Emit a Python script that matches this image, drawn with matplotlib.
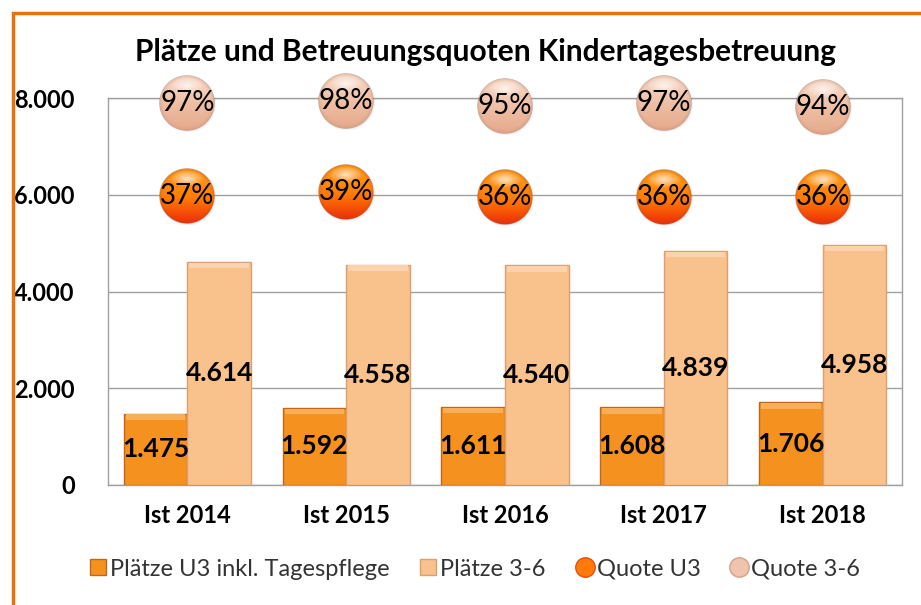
import matplotlib
matplotlib.use("Agg")
import matplotlib.pyplot as plt
from matplotlib.patches import Rectangle
from matplotlib.lines import Line2D
from matplotlib.colors import to_rgb
from matplotlib.offsetbox import OffsetImage, AnnotationBbox
import numpy as np

categories = ["Ist 2014", "Ist 2015", "Ist 2016", "Ist 2017", "Ist 2018"]
plaetze_u3 = [1475, 1592, 1611, 1608, 1706]
plaetze_36 = [4614, 4558, 4540, 4839, 4958]
quote_u3 = [0.37, 0.39, 0.36, 0.36, 0.36]
quote_36 = [0.97, 0.98, 0.95, 0.97, 0.94]
yticks = [0, 2000, 4000, 6000, 8000]
ytick_labels = ["0", "2.000", "4.000", "6.000", "8.000"]

FONT = "Lato"
plt.rcParams["font.family"] = [FONT, "DejaVu Sans"]

fig = plt.figure(figsize=(9.21, 6.05), dpi=100)
fig.patches.append(Rectangle((13/921, -0.05), 1.2, 1 - 13/605 + 0.05,
                             transform=fig.transFigure, fill=False,
                             edgecolor="#E8720C", linewidth=2.5, zorder=10))

ax = fig.add_axes([108/921, 1 - 485/605, (902 - 108)/921, (485 - 98)/605])
x = np.arange(len(categories))
w = 0.4

c_u3, e_u3 = "#F5911F", "#C2661C"
c_36, e_36 = "#F9C18C", "#DCA070"

b1 = ax.bar(x - w/2, plaetze_u3, w, color=c_u3, edgecolor=e_u3, linewidth=1.0, zorder=3)
b2 = ax.bar(x + w/2, plaetze_36, w, color=c_36, edgecolor=e_36, linewidth=1.0, zorder=3)

for bars, hl in ((b1, "#F9AE58"), (b2, "#FBD4AE")):
    for r in bars:
        bx, by, bw, bh = r.get_x(), r.get_y(), r.get_width(), r.get_height()
        ax.add_patch(Rectangle((bx + bw*0.03, by + bh - 130), bw*0.94, 115,
                               color=hl, zorder=4, linewidth=0))

for bars, vals in ((b1, plaetze_u3), (b2, plaetze_36)):
    for r, v in zip(bars, vals):
        ax.text(r.get_x() + r.get_width()/2, v/2, f"{v:,}".replace(",", "."),
                ha="center", va="center", fontsize=19, fontweight="bold", zorder=6)

ax.set_xlim(-0.5, len(categories) - 0.5)
ax.set_ylim(0, 8000)
ax.set_yticks(yticks)
ax.set_yticklabels(ytick_labels, fontsize=17, fontweight="bold")
ax.set_xticks(x)
ax.set_xticklabels(categories, fontsize=17, fontweight="bold")
ax.tick_params(axis="y", length=0, pad=24)
ax.tick_params(axis="x", length=0, pad=14)
ax.grid(axis="y", color="#A0A0A0", linewidth=1.0, zorder=0)
ax.set_axisbelow(True)
for s in ax.spines.values():
    s.set_color("#A0A0A0")
    s.set_linewidth(1.0)

ax2 = ax.twinx()
ax2.set_ylim(-1.5, 1.0)
ax2.set_yticks([])
for s in ax2.spines.values():
    s.set_visible(False)


def sphere(size, top, mid, bottom, rim):
    n = size * 3
    yy, xx = np.mgrid[0:n, 0:n]
    c = (n - 1) / 2
    r = n / 2 - 3
    dx, dy = (xx - c) / r, (yy - c) / r
    d = np.sqrt(dx**2 + dy**2)
    top, mid, bottom, rim = map(lambda s: np.array(to_rgb(s)), (top, mid, bottom, rim))
    t = np.clip((dy + 1) / 2, 0, 1)[..., None]  # 0 top -> 1 bottom
    col = np.where(t < 0.55, top + (mid - top) * (t / 0.55),
                   mid + (bottom - mid) * ((t - 0.55) / 0.45))
    # rim darkening
    rimw = np.clip((d - 0.8) / 0.2, 0, 1)[..., None] ** 2
    col = col * (1 - 0.5 * rimw) + rim * 0.5 * rimw
    # specular highlight
    hx, hy = dx / 0.6, (dy + 0.62) / 0.3
    hd = np.sqrt(hx**2 + hy**2)
    spec = np.clip(1 - hd, 0, 1)[..., None] * 0.75
    col = col * (1 - spec) + spec
    alpha = np.clip((1 - d) * r / 3, 0, 1)
    # soft shadow
    sd = np.sqrt(((xx - c - 3) / r) ** 2 + ((yy - c - 4) / r) ** 2)
    salpha = np.clip((1.03 - sd) * 4, 0, 1) * 0.3
    rgba = np.zeros((n, n, 4))
    rgba[..., :3] = col * alpha[..., None] + np.array([0.45, 0.32, 0.25]) * (1 - alpha[..., None])
    rgba[..., 3] = alpha + salpha * (1 - alpha)
    # downsample 3x
    rgba = rgba.reshape(size, 3, size, 3, 4).mean(axis=(1, 3))
    return np.clip(rgba, 0, 1)


def bubbles(vals, img):
    for xi, v in zip(x, vals):
        ab = AnnotationBbox(OffsetImage(img, zoom=1, dpi_cor=False), (xi, v),
                            xycoords="data", frameon=False, pad=0, zorder=5)
        ax2.add_artist(ab)
        ax2.text(xi, v, f"{round(v*100)}%", ha="center", va="center",
                 fontsize=20, zorder=7)


img_u3 = sphere(58, "#FFA21E", "#FF7A05", "#EC2A0A", "#C8400A")
img_36 = sphere(58, "#F8DCCB", "#EEBDA2", "#E5A98C", "#C48A70")
bubbles(quote_u3, img_u3)
bubbles(quote_36, img_36)

fig.text(485/921, 1 - 52/605, "Plätze und Betreuungsquoten Kindertagesbetreuung",
         ha="center", va="center", fontsize=21.5, fontweight="bold")

handles = [
    Line2D([], [], marker="s", ls="none", ms=12, mfc=c_u3, mec=e_u3),
    Line2D([], [], marker="s", ls="none", ms=12, mfc=c_36, mec=e_36),
    Line2D([], [], marker="o", ls="none", ms=14, mfc="#FF7A0A", mec="#E8500C"),
    Line2D([], [], marker="o", ls="none", ms=14, mfc="#F0C3AC", mec="#D8A088"),
]
labels = ["Plätze U3 inkl. Tagespflege", "Plätze 3-6", "Quote U3", "Quote 3-6"]
fig.legend(handles, labels, loc="center", bbox_to_anchor=(475/921, 1 - 569/605),
           ncol=4, frameon=False, fontsize=17, handlelength=0.7,
           handletextpad=0.15, columnspacing=1.3, labelcolor="#333333")

fig.savefig("out.png", dpi=100)
